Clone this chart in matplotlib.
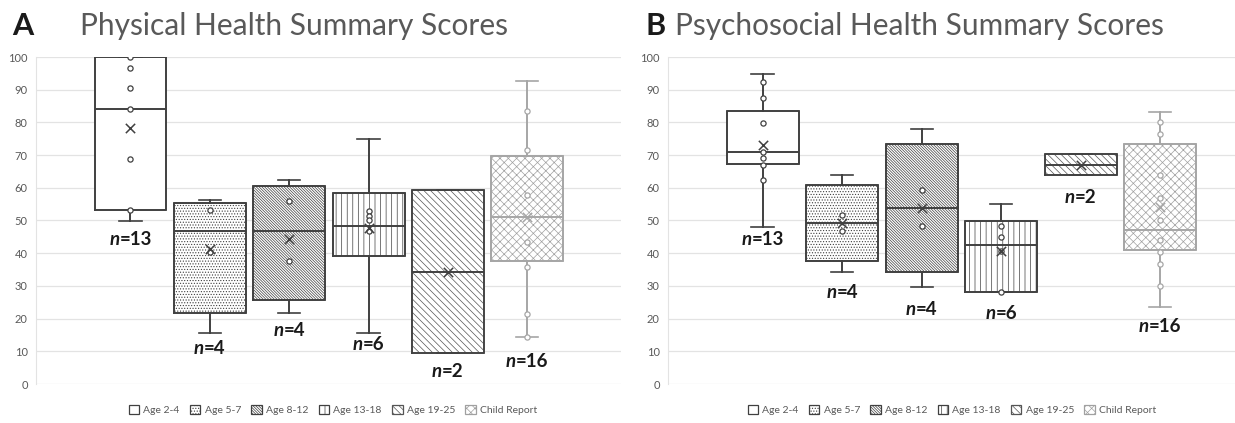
import matplotlib
matplotlib.use('Agg')
import matplotlib.pyplot as plt
from matplotlib.patches import Patch

plt.rcParams['font.family'] = ['Lato', 'DejaVu Sans']
plt.rcParams['hatch.linewidth'] = 0.5

groups = ['Age 2-4', 'Age 5-7', 'Age 8-12', 'Age 13-18', 'Age 19-25', 'Child Report']
hatches = ['', '......', '\\' * 12, '|||', '\\' * 5, 'xxxx']
hatch_cols = ['#404040', '#404040', '#404040', '#404040', '#555555', '#a0a0a0']
sizes = ['13', '4', '4', '6', '2', '16']

# Physical health summary scores (panel A)
phys_q1 = [53.2, 21.8, 25.8, 39.0, 9.4, 37.7]
phys_med = [84.2, 46.7, 46.7, 48.4, 34.4, 51.0]
phys_q3 = [100.0, 55.4, 60.7, 58.5, 59.4, 69.6]
phys_lo = [49.9, 15.6, 21.8, 15.6, 9.4, 14.5]
phys_hi = [100.0, 56.2, 62.3, 74.8, 59.4, 92.8]
phys_mean = [78.3, 41.3, 44.4, 47.6, 34.1, 51.2]
phys_pts = [[100.0, 96.7, 90.6, 84.2, 68.7, 53.2],
            [53.1, 40.3],
            [56.1, 37.5],
            [53.0, 51.5, 50.2, 46.9],
            [],
            [83.4, 71.5, 57.8, 43.5, 35.7, 21.5, 14.5]]
phys_label_y = [44.3, 10.9, 16.3, 12.2, 3.8, 6.8]

# Psychosocial health summary scores (panel B)
psy_q1 = [67.3, 37.5, 34.4, 28.2, 64.0, 40.9]
psy_med = [71.1, 49.2, 53.9, 42.4, 67.1, 47.1]
psy_q3 = [83.6, 60.8, 73.3, 49.9, 70.3, 73.3]
psy_lo = [48.0, 34.3, 29.6, 28.2, 64.0, 23.4]
psy_hi = [94.9, 64.0, 78.0, 54.9, 70.3, 83.3]
psy_mean = [73.2, 49.2, 53.9, 40.6, 67.1, 54.0]
psy_pts = [[92.4, 87.4, 79.9, 71.1, 69.1, 67.1, 62.3],
           [51.6, 46.8],
           [59.3, 48.4],
           [48.3, 44.9, 40.6, 28.2],
           [],
           [80.1, 76.6, 63.9, 56.8, 50.2, 44.0, 40.3, 36.7, 30.0]]
psy_label_y = [44.3, 28.0, 22.8, 21.6, 56.9, 17.5]

DARK = '#404040'
GREY = '#a6a6a6'
TXT = '#595959'


def draw_panel(ax, q1, med, q3, lo, hi, mean, pts, label_y, xmax):
    positions = list(range(1, len(groups) + 1))
    for i, pos in enumerate(positions):
        col = GREY if groups[i] == 'Child Report' else DARK
        stats = [{'q1': q1[i], 'med': med[i], 'q3': q3[i],
                  'whislo': lo[i], 'whishi': hi[i], 'fliers': []}]
        art = ax.bxp(stats, positions=[pos], widths=0.905, capwidths=0.28,
                     patch_artist=True, showfliers=False, manage_ticks=False,
                     boxprops=dict(facecolor='white', edgecolor=hatch_cols[i],
                                   hatch=hatches[i], linewidth=1.2),
                     medianprops=dict(color=col, linewidth=1.2),
                     whiskerprops=dict(color=col, linewidth=1.2),
                     capprops=dict(color=col, linewidth=1.2))
        for b in art['boxes']:
            b.set_zorder(2)
        # outline drawn on top in the box colour
        ax.bxp(stats, positions=[pos], widths=0.905, showcaps=False,
               showfliers=False, manage_ticks=False,
               boxprops=dict(color=col, linewidth=1.2),
               medianprops=dict(color=col, linewidth=1.2),
               whiskerprops=dict(color=col, linewidth=1.2))
        if pts[i]:
            ax.scatter([pos] * len(pts[i]), pts[i], s=14, facecolor='white',
                       edgecolor=col, linewidth=0.9, zorder=3)
        ax.scatter([pos], [mean[i]], marker='x', s=45, color=col,
                   linewidth=1.1, zorder=4)
        # n= labels: italic n followed by bold count
        t1 = ax.text(pos, label_y[i], 'n', fontsize=13.5, fontweight='bold',
                     fontstyle='italic', color='#1a1a1a', ha='left',
                     va='center', zorder=5)
        t2 = ax.annotate('=' + sizes[i], xy=(1, 0), xycoords=t1,
                         fontsize=13.5, fontweight='bold', color='#1a1a1a',
                         ha='left', va='bottom', zorder=5)
        ax._nlabels.append((pos, label_y[i], t1, t2))

    ax.set_ylim(0, 100)
    ax.set_xlim(-0.19, xmax)
    ax.set_yticks(range(0, 101, 10))
    ax.set_xticks([])
    ax.grid(axis='y', color='#e3e3e3', linewidth=0.9)
    ax.set_axisbelow(True)
    for s in ['top', 'right', 'bottom']:
        ax.spines[s].set_visible(False)
    ax.spines['left'].set_color('#e3e3e3')
    ax.tick_params(axis='y', length=0, pad=6, labelsize=8, labelcolor=TXT)


fig = plt.figure(figsize=(12.35, 4.23), dpi=100)
ax1 = fig.add_axes([36 / 1235, 1 - 384 / 423, (621 - 36) / 1235, 327 / 423])
ax2 = fig.add_axes([668 / 1235, 1 - 384 / 423, (1235 - 668) / 1235, 327 / 423])
ax1._nlabels = []
ax2._nlabels = []

draw_panel(ax1, phys_q1, phys_med, phys_q3, phys_lo, phys_hi, phys_mean,
           phys_pts, phys_label_y, 7.18)
draw_panel(ax2, psy_q1, psy_med, psy_q3, psy_lo, psy_hi, psy_mean,
           psy_pts, psy_label_y, 6.94)

# centre the two-part n labels on their boxes
fig.canvas.draw()
r = fig.canvas.get_renderer()
for ax in (ax1, ax2):
    for pos, y, t1, t2 in ax._nlabels:
        w = t1.get_window_extent(r).width + t2.get_window_extent(r).width
        px, py = ax.transData.transform((pos, y))
        nx, ny = ax.transData.inverted().transform((px - w / 2, py))
        t1.set_position((nx, y))

fig.text(12 / 1235, 1 - 35 / 423, 'A', fontsize=22, fontweight='bold',
         color='#1a1a1a', va='baseline')
fig.text(80 / 1235, 1 - 35 / 423, 'Physical Health Summary Scores',
         fontsize=21.5, color=TXT, va='baseline')
fig.text(645 / 1235, 1 - 35 / 423, 'B', fontsize=22, fontweight='bold',
         color='#1a1a1a', va='baseline')
fig.text(675 / 1235, 1 - 35 / 423, 'Psychosocial Health Summary Scores',
         fontsize=21.5, color=TXT, va='baseline')

for cx in (333 / 1235, 952 / 1235):
    handles = [Patch(facecolor='white', edgecolor=hc, hatch=h,
                     linewidth=0.9, label=g)
               for g, h, hc in zip(groups, hatches, hatch_cols)]
    fig.legend(handles=handles, loc='center', bbox_to_anchor=(cx, 1 - 410 / 423),
               ncol=6, frameon=False, fontsize=7.5, handlelength=1.0,
               handleheight=1.0, handletextpad=0.4, columnspacing=1.0,
               labelcolor=TXT)

fig.savefig('out.png', dpi=100)
